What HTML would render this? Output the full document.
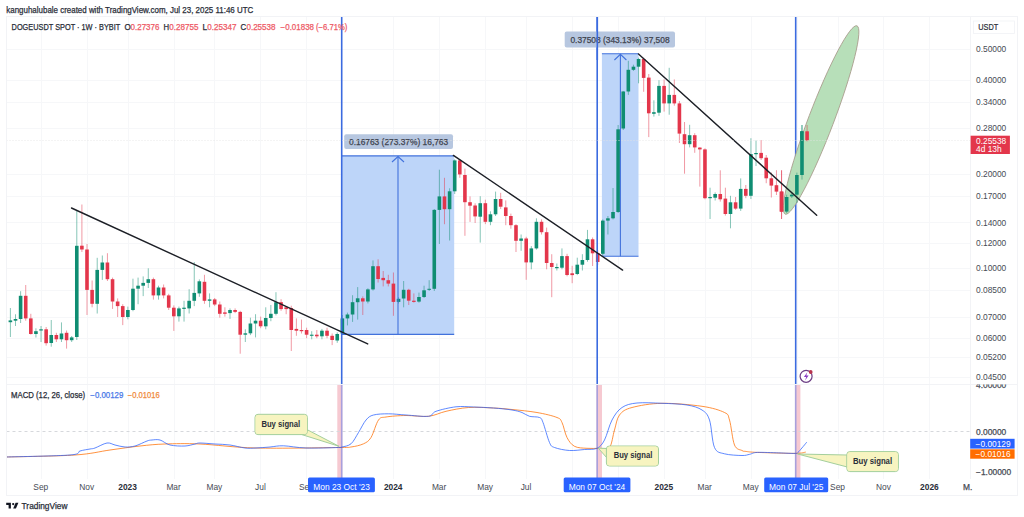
<!DOCTYPE html>
<html><head><meta charset="utf-8"><style>
html,body{margin:0;padding:0;background:#fff;width:1024px;height:517px;overflow:hidden}
svg{display:block}
</style></head><body>
<svg width="1024" height="517" viewBox="0 0 1024 517">
<rect width="1024" height="517" fill="#fff"/>
<g stroke="#f6f7f9" stroke-width="1" shape-rendering="crispEdges">
<line x1="6.5" y1="49.5" x2="970.5" y2="49.5"/>
<line x1="6.5" y1="80.5" x2="970.5" y2="80.5"/>
<line x1="6.5" y1="102.5" x2="970.5" y2="102.5"/>
<line x1="6.5" y1="128.5" x2="970.5" y2="128.5"/>
<line x1="6.5" y1="174.5" x2="970.5" y2="174.5"/>
<line x1="6.5" y1="196.5" x2="970.5" y2="196.5"/>
<line x1="6.5" y1="222.5" x2="970.5" y2="222.5"/>
<line x1="6.5" y1="243.5" x2="970.5" y2="243.5"/>
<line x1="6.5" y1="268.5" x2="970.5" y2="268.5"/>
<line x1="6.5" y1="290.5" x2="970.5" y2="290.5"/>
<line x1="6.5" y1="317.5" x2="970.5" y2="317.5"/>
<line x1="6.5" y1="338.5" x2="970.5" y2="338.5"/>
<line x1="6.5" y1="357.5" x2="970.5" y2="357.5"/>
<line x1="6.5" y1="377.5" x2="970.5" y2="377.5"/>
<line x1="41.5" y1="16.5" x2="41.5" y2="478.5"/>
<line x1="87.5" y1="16.5" x2="87.5" y2="478.5"/>
<line x1="128.5" y1="16.5" x2="128.5" y2="478.5"/>
<line x1="174.5" y1="16.5" x2="174.5" y2="478.5"/>
<line x1="214.5" y1="16.5" x2="214.5" y2="478.5"/>
<line x1="260.5" y1="16.5" x2="260.5" y2="478.5"/>
<line x1="306.5" y1="16.5" x2="306.5" y2="478.5"/>
<line x1="393.5" y1="16.5" x2="393.5" y2="478.5"/>
<line x1="439.5" y1="16.5" x2="439.5" y2="478.5"/>
<line x1="485.5" y1="16.5" x2="485.5" y2="478.5"/>
<line x1="526.5" y1="16.5" x2="526.5" y2="478.5"/>
<line x1="572.5" y1="16.5" x2="572.5" y2="478.5"/>
<line x1="618.5" y1="16.5" x2="618.5" y2="478.5"/>
<line x1="664.5" y1="16.5" x2="664.5" y2="478.5"/>
<line x1="705.5" y1="16.5" x2="705.5" y2="478.5"/>
<line x1="751.5" y1="16.5" x2="751.5" y2="478.5"/>
<line x1="797.5" y1="16.5" x2="797.5" y2="478.5"/>
<line x1="838.5" y1="16.5" x2="838.5" y2="478.5"/>
<line x1="883.5" y1="16.5" x2="883.5" y2="478.5"/>
<line x1="929.5" y1="16.5" x2="929.5" y2="478.5"/>
</g>
<rect x="337.3" y="384.5" width="5.2" height="94.0" fill="#f6c9d1" />
<rect x="596.3" y="384.5" width="5.7" height="94.0" fill="#f6c9d1" />
<rect x="794.9" y="384.5" width="5.5" height="94.0" fill="#f6c9d1" />
<line x1="6.5" y1="431.5" x2="970.5" y2="431.5" stroke="#d6d8dc" stroke-width="1" stroke-dasharray="3,3"/>
<rect x="341.6" y="155.9" width="112.6" height="178.5" fill="#bdd5f9" />
<rect x="601.9" y="53.7" width="36.6" height="202.6" fill="#bdd5f9" />
<g>
<rect x="6.5" y="322.5" width="0.5" height="8.7" fill="#0f8d72" fill-opacity="0.6"/>
<rect x="9.89" y="308.0" width="1" height="29.0" fill="#0f8d72" fill-opacity="0.5"/>
<rect x="8.59" y="320.4" width="3.6" height="1.8" fill="#0f8d72"/>
<rect x="15.00" y="314.3" width="1" height="11.7" fill="#0f8d72" fill-opacity="0.5"/>
<rect x="13.70" y="319.0" width="3.6" height="1.7" fill="#0f8d72"/>
<rect x="20.11" y="291.2" width="1" height="31.8" fill="#0f8d72" fill-opacity="0.5"/>
<rect x="18.81" y="295.8" width="3.6" height="23.2" fill="#0f8d72"/>
<rect x="25.22" y="285.0" width="1" height="35.7" fill="#e3364b" fill-opacity="0.5"/>
<rect x="23.92" y="295.8" width="3.6" height="22.6" fill="#e3364b"/>
<rect x="30.32" y="313.8" width="1" height="20.8" fill="#e3364b" fill-opacity="0.5"/>
<rect x="29.02" y="318.4" width="3.6" height="15.6" fill="#e3364b"/>
<rect x="35.43" y="328.3" width="1" height="9.2" fill="#0f8d72" fill-opacity="0.5"/>
<rect x="34.13" y="331.2" width="3.6" height="2.8" fill="#0f8d72"/>
<rect x="40.54" y="326.0" width="1" height="16.0" fill="#0f8d72" fill-opacity="0.5"/>
<rect x="39.24" y="329.3" width="3.6" height="1.2" fill="#0f8d72"/>
<rect x="45.64" y="327.0" width="1" height="18.6" fill="#e3364b" fill-opacity="0.5"/>
<rect x="44.34" y="329.3" width="3.6" height="13.9" fill="#e3364b"/>
<rect x="50.75" y="320.0" width="1" height="26.7" fill="#0f8d72" fill-opacity="0.5"/>
<rect x="49.45" y="335.0" width="3.6" height="8.0" fill="#0f8d72"/>
<rect x="55.86" y="332.8" width="1" height="9.2" fill="#e3364b" fill-opacity="0.5"/>
<rect x="54.56" y="335.0" width="3.6" height="4.3" fill="#e3364b"/>
<rect x="60.97" y="322.4" width="1" height="19.6" fill="#0f8d72" fill-opacity="0.5"/>
<rect x="59.67" y="333.5" width="3.6" height="5.8" fill="#0f8d72"/>
<rect x="66.07" y="330.5" width="1" height="18.1" fill="#e3364b" fill-opacity="0.5"/>
<rect x="64.77" y="332.8" width="3.6" height="7.4" fill="#e3364b"/>
<rect x="71.18" y="336.0" width="1" height="6.0" fill="#0f8d72" fill-opacity="0.5"/>
<rect x="69.88" y="337.4" width="3.6" height="2.8" fill="#0f8d72"/>
<rect x="76.29" y="211.0" width="1" height="129.0" fill="#0f8d72" fill-opacity="0.5"/>
<rect x="74.99" y="245.8" width="3.6" height="91.2" fill="#0f8d72"/>
<rect x="81.39" y="204.5" width="1" height="47.5" fill="#e3364b" fill-opacity="0.5"/>
<rect x="80.09" y="245.7" width="3.6" height="3.8" fill="#e3364b"/>
<rect x="86.50" y="244.0" width="1" height="71.0" fill="#e3364b" fill-opacity="0.5"/>
<rect x="85.20" y="249.5" width="3.6" height="40.4" fill="#e3364b"/>
<rect x="91.61" y="280.5" width="1" height="26.8" fill="#e3364b" fill-opacity="0.5"/>
<rect x="90.31" y="289.9" width="3.6" height="13.9" fill="#e3364b"/>
<rect x="96.71" y="257.8" width="1" height="55.7" fill="#0f8d72" fill-opacity="0.5"/>
<rect x="95.41" y="269.9" width="3.6" height="33.9" fill="#0f8d72"/>
<rect x="101.82" y="255.5" width="1" height="24.4" fill="#0f8d72" fill-opacity="0.5"/>
<rect x="100.52" y="262.5" width="3.6" height="7.4" fill="#0f8d72"/>
<rect x="106.93" y="253.2" width="1" height="27.8" fill="#e3364b" fill-opacity="0.5"/>
<rect x="105.63" y="262.5" width="3.6" height="16.7" fill="#e3364b"/>
<rect x="112.04" y="277.6" width="1" height="31.3" fill="#e3364b" fill-opacity="0.5"/>
<rect x="110.74" y="279.2" width="3.6" height="22.3" fill="#e3364b"/>
<rect x="117.14" y="298.4" width="1" height="18.6" fill="#e3364b" fill-opacity="0.5"/>
<rect x="115.84" y="301.5" width="3.6" height="4.6" fill="#e3364b"/>
<rect x="122.25" y="304.2" width="1" height="20.9" fill="#e3364b" fill-opacity="0.5"/>
<rect x="120.95" y="306.1" width="3.6" height="10.9" fill="#e3364b"/>
<rect x="127.36" y="306.6" width="1" height="12.7" fill="#0f8d72" fill-opacity="0.5"/>
<rect x="126.06" y="310.0" width="3.6" height="7.0" fill="#0f8d72"/>
<rect x="132.46" y="278.7" width="1" height="32.5" fill="#0f8d72" fill-opacity="0.5"/>
<rect x="131.16" y="288.7" width="3.6" height="21.3" fill="#0f8d72"/>
<rect x="137.57" y="277.6" width="1" height="26.6" fill="#0f8d72" fill-opacity="0.5"/>
<rect x="136.27" y="285.7" width="3.6" height="3.0" fill="#0f8d72"/>
<rect x="142.68" y="276.4" width="1" height="19.7" fill="#0f8d72" fill-opacity="0.5"/>
<rect x="141.38" y="282.9" width="3.6" height="2.8" fill="#0f8d72"/>
<rect x="147.78" y="268.3" width="1" height="19.7" fill="#0f8d72" fill-opacity="0.5"/>
<rect x="146.48" y="279.2" width="3.6" height="3.7" fill="#0f8d72"/>
<rect x="152.89" y="277.6" width="1" height="22.0" fill="#e3364b" fill-opacity="0.5"/>
<rect x="151.59" y="279.2" width="3.6" height="16.2" fill="#e3364b"/>
<rect x="158.00" y="285.7" width="1" height="13.9" fill="#0f8d72" fill-opacity="0.5"/>
<rect x="156.70" y="287.5" width="3.6" height="7.9" fill="#0f8d72"/>
<rect x="163.11" y="284.5" width="1" height="13.9" fill="#e3364b" fill-opacity="0.5"/>
<rect x="161.81" y="287.5" width="3.6" height="7.9" fill="#e3364b"/>
<rect x="168.21" y="293.8" width="1" height="16.2" fill="#e3364b" fill-opacity="0.5"/>
<rect x="166.91" y="295.4" width="3.6" height="12.3" fill="#e3364b"/>
<rect x="173.32" y="305.4" width="1" height="25.5" fill="#e3364b" fill-opacity="0.5"/>
<rect x="172.02" y="307.7" width="3.6" height="8.6" fill="#e3364b"/>
<rect x="178.43" y="306.6" width="1" height="15.0" fill="#0f8d72" fill-opacity="0.5"/>
<rect x="177.13" y="308.4" width="3.6" height="7.9" fill="#0f8d72"/>
<rect x="183.53" y="300.8" width="1" height="20.8" fill="#0f8d72" fill-opacity="0.5"/>
<rect x="182.23" y="307.7" width="3.6" height="1.2" fill="#0f8d72"/>
<rect x="188.64" y="289.2" width="1" height="24.3" fill="#0f8d72" fill-opacity="0.5"/>
<rect x="187.34" y="300.8" width="3.6" height="7.6" fill="#0f8d72"/>
<rect x="193.75" y="262.0" width="1" height="44.1" fill="#0f8d72" fill-opacity="0.5"/>
<rect x="192.45" y="292.9" width="3.6" height="7.9" fill="#0f8d72"/>
<rect x="198.85" y="279.4" width="1" height="17.4" fill="#0f8d72" fill-opacity="0.5"/>
<rect x="197.55" y="281.3" width="3.6" height="12.1" fill="#0f8d72"/>
<rect x="203.96" y="274.8" width="1" height="29.0" fill="#e3364b" fill-opacity="0.5"/>
<rect x="202.66" y="281.8" width="3.6" height="19.0" fill="#e3364b"/>
<rect x="209.07" y="293.4" width="1" height="13.9" fill="#0f8d72" fill-opacity="0.5"/>
<rect x="207.77" y="299.4" width="3.6" height="1.4" fill="#0f8d72"/>
<rect x="214.18" y="298.0" width="1" height="8.1" fill="#e3364b" fill-opacity="0.5"/>
<rect x="212.88" y="299.4" width="3.6" height="5.1" fill="#e3364b"/>
<rect x="219.28" y="301.5" width="1" height="16.2" fill="#e3364b" fill-opacity="0.5"/>
<rect x="217.98" y="304.5" width="3.6" height="9.3" fill="#e3364b"/>
<rect x="224.39" y="307.3" width="1" height="9.3" fill="#e3364b" fill-opacity="0.5"/>
<rect x="223.09" y="312.4" width="3.6" height="1.4" fill="#e3364b"/>
<rect x="229.50" y="308.4" width="1" height="10.5" fill="#0f8d72" fill-opacity="0.5"/>
<rect x="228.20" y="310.0" width="3.6" height="3.1" fill="#0f8d72"/>
<rect x="234.60" y="308.4" width="1" height="4.7" fill="#e3364b" fill-opacity="0.5"/>
<rect x="233.30" y="310.0" width="3.6" height="1.9" fill="#e3364b"/>
<rect x="239.71" y="310.8" width="1" height="42.9" fill="#e3364b" fill-opacity="0.5"/>
<rect x="238.41" y="311.9" width="3.6" height="22.8" fill="#e3364b"/>
<rect x="244.82" y="329.3" width="1" height="12.7" fill="#0f8d72" fill-opacity="0.5"/>
<rect x="243.52" y="333.3" width="3.6" height="1.4" fill="#0f8d72"/>
<rect x="249.92" y="317.7" width="1" height="17.4" fill="#0f8d72" fill-opacity="0.5"/>
<rect x="248.62" y="323.5" width="3.6" height="9.8" fill="#0f8d72"/>
<rect x="255.03" y="314.2" width="1" height="23.2" fill="#0f8d72" fill-opacity="0.5"/>
<rect x="253.73" y="320.7" width="3.6" height="2.8" fill="#0f8d72"/>
<rect x="260.14" y="316.6" width="1" height="11.6" fill="#e3364b" fill-opacity="0.5"/>
<rect x="258.84" y="320.7" width="3.6" height="5.6" fill="#e3364b"/>
<rect x="265.25" y="307.3" width="1" height="22.0" fill="#0f8d72" fill-opacity="0.5"/>
<rect x="263.94" y="318.0" width="3.6" height="8.3" fill="#0f8d72"/>
<rect x="270.35" y="305.0" width="1" height="16.2" fill="#0f8d72" fill-opacity="0.5"/>
<rect x="269.05" y="313.8" width="3.6" height="4.2" fill="#0f8d72"/>
<rect x="275.46" y="292.2" width="1" height="23.2" fill="#0f8d72" fill-opacity="0.5"/>
<rect x="274.16" y="302.2" width="3.6" height="11.6" fill="#0f8d72"/>
<rect x="280.57" y="299.2" width="1" height="11.6" fill="#e3364b" fill-opacity="0.5"/>
<rect x="279.27" y="302.2" width="3.6" height="6.9" fill="#e3364b"/>
<rect x="285.67" y="306.1" width="1" height="8.1" fill="#e3364b" fill-opacity="0.5"/>
<rect x="284.37" y="307.3" width="3.6" height="1.8" fill="#e3364b"/>
<rect x="290.78" y="305.7" width="1" height="45.3" fill="#e3364b" fill-opacity="0.5"/>
<rect x="289.48" y="308.0" width="3.6" height="22.0" fill="#e3364b"/>
<rect x="295.89" y="318.4" width="1" height="17.4" fill="#e3364b" fill-opacity="0.5"/>
<rect x="294.59" y="328.9" width="3.6" height="1.8" fill="#e3364b"/>
<rect x="300.99" y="319.6" width="1" height="13.9" fill="#e3364b" fill-opacity="0.5"/>
<rect x="299.69" y="330.0" width="3.6" height="1.2" fill="#e3364b"/>
<rect x="306.10" y="327.7" width="1" height="10.5" fill="#e3364b" fill-opacity="0.5"/>
<rect x="304.80" y="330.0" width="3.6" height="4.7" fill="#e3364b"/>
<rect x="311.21" y="331.2" width="1" height="8.1" fill="#0f8d72" fill-opacity="0.5"/>
<rect x="309.91" y="334.7" width="3.6" height="1.1" fill="#0f8d72"/>
<rect x="316.31" y="330.0" width="1" height="8.2" fill="#e3364b" fill-opacity="0.5"/>
<rect x="315.01" y="334.7" width="3.6" height="1.6" fill="#e3364b"/>
<rect x="321.42" y="328.9" width="1" height="10.4" fill="#0f8d72" fill-opacity="0.5"/>
<rect x="320.12" y="330.7" width="3.6" height="5.6" fill="#0f8d72"/>
<rect x="326.53" y="327.7" width="1" height="10.5" fill="#e3364b" fill-opacity="0.5"/>
<rect x="325.23" y="330.7" width="3.6" height="5.1" fill="#e3364b"/>
<rect x="331.64" y="333.5" width="1" height="11.6" fill="#e3364b" fill-opacity="0.5"/>
<rect x="330.34" y="335.8" width="3.6" height="4.2" fill="#e3364b"/>
<rect x="336.74" y="332.4" width="1" height="10.4" fill="#0f8d72" fill-opacity="0.5"/>
<rect x="335.44" y="334.0" width="3.6" height="6.5" fill="#0f8d72"/>
<rect x="341.85" y="315.0" width="1" height="19.7" fill="#0f8d72" fill-opacity="0.5"/>
<rect x="340.55" y="318.4" width="3.6" height="15.1" fill="#0f8d72"/>
<rect x="346.96" y="312.6" width="1" height="12.8" fill="#0f8d72" fill-opacity="0.5"/>
<rect x="345.66" y="314.5" width="3.6" height="3.9" fill="#0f8d72"/>
<rect x="352.06" y="295.2" width="1" height="26.7" fill="#0f8d72" fill-opacity="0.5"/>
<rect x="350.76" y="302.2" width="3.6" height="12.3" fill="#0f8d72"/>
<rect x="357.17" y="287.1" width="1" height="32.5" fill="#0f8d72" fill-opacity="0.5"/>
<rect x="355.87" y="298.3" width="3.6" height="3.9" fill="#0f8d72"/>
<rect x="362.28" y="296.4" width="1" height="18.6" fill="#e3364b" fill-opacity="0.5"/>
<rect x="360.98" y="298.3" width="3.6" height="3.2" fill="#e3364b"/>
<rect x="367.39" y="288.3" width="1" height="15.1" fill="#0f8d72" fill-opacity="0.5"/>
<rect x="366.09" y="289.4" width="3.6" height="12.1" fill="#0f8d72"/>
<rect x="372.49" y="260.4" width="1" height="30.2" fill="#0f8d72" fill-opacity="0.5"/>
<rect x="371.19" y="266.2" width="3.6" height="23.2" fill="#0f8d72"/>
<rect x="377.60" y="259.3" width="1" height="23.2" fill="#e3364b" fill-opacity="0.5"/>
<rect x="376.30" y="266.2" width="3.6" height="12.8" fill="#e3364b"/>
<rect x="382.71" y="271.0" width="1" height="15.4" fill="#e3364b" fill-opacity="0.5"/>
<rect x="381.41" y="277.9" width="3.6" height="2.3" fill="#e3364b"/>
<rect x="387.81" y="274.8" width="1" height="11.6" fill="#e3364b" fill-opacity="0.5"/>
<rect x="386.51" y="280.2" width="3.6" height="3.4" fill="#e3364b"/>
<rect x="392.92" y="272.5" width="1" height="43.3" fill="#e3364b" fill-opacity="0.5"/>
<rect x="391.62" y="283.6" width="3.6" height="18.3" fill="#e3364b"/>
<rect x="398.03" y="297.3" width="1" height="6.2" fill="#0f8d72" fill-opacity="0.5"/>
<rect x="396.73" y="298.8" width="3.6" height="3.1" fill="#0f8d72"/>
<rect x="403.13" y="281.0" width="1" height="26.3" fill="#0f8d72" fill-opacity="0.5"/>
<rect x="401.83" y="289.8" width="3.6" height="8.7" fill="#0f8d72"/>
<rect x="408.24" y="288.8" width="1" height="16.2" fill="#e3364b" fill-opacity="0.5"/>
<rect x="406.94" y="289.8" width="3.6" height="10.9" fill="#e3364b"/>
<rect x="413.35" y="293.4" width="1" height="9.3" fill="#e3364b" fill-opacity="0.5"/>
<rect x="412.05" y="300.7" width="3.6" height="1.2" fill="#e3364b"/>
<rect x="418.46" y="292.6" width="1" height="10.1" fill="#0f8d72" fill-opacity="0.5"/>
<rect x="417.16" y="297.0" width="3.6" height="4.6" fill="#0f8d72"/>
<rect x="423.56" y="285.7" width="1" height="12.3" fill="#0f8d72" fill-opacity="0.5"/>
<rect x="422.26" y="290.3" width="3.6" height="6.7" fill="#0f8d72"/>
<rect x="428.67" y="280.2" width="1" height="10.8" fill="#0f8d72" fill-opacity="0.5"/>
<rect x="427.37" y="288.8" width="3.6" height="1.0" fill="#0f8d72"/>
<rect x="433.78" y="209.0" width="1" height="82.0" fill="#0f8d72" fill-opacity="0.5"/>
<rect x="432.48" y="209.9" width="3.6" height="78.9" fill="#0f8d72"/>
<rect x="438.88" y="169.7" width="1" height="74.3" fill="#0f8d72" fill-opacity="0.5"/>
<rect x="437.58" y="196.4" width="3.6" height="13.5" fill="#0f8d72"/>
<rect x="443.99" y="177.8" width="1" height="46.4" fill="#e3364b" fill-opacity="0.5"/>
<rect x="442.69" y="196.4" width="3.6" height="12.8" fill="#e3364b"/>
<rect x="449.10" y="188.3" width="1" height="52.2" fill="#0f8d72" fill-opacity="0.5"/>
<rect x="447.80" y="191.3" width="3.6" height="17.9" fill="#0f8d72"/>
<rect x="454.20" y="159.3" width="1" height="34.7" fill="#0f8d72" fill-opacity="0.5"/>
<rect x="452.90" y="160.4" width="3.6" height="30.9" fill="#0f8d72"/>
<rect x="459.31" y="159.3" width="1" height="18.5" fill="#e3364b" fill-opacity="0.5"/>
<rect x="458.01" y="160.4" width="3.6" height="14.0" fill="#e3364b"/>
<rect x="464.42" y="168.6" width="1" height="67.2" fill="#e3364b" fill-opacity="0.5"/>
<rect x="463.12" y="175.0" width="3.6" height="27.2" fill="#e3364b"/>
<rect x="469.53" y="196.4" width="1" height="25.5" fill="#e3364b" fill-opacity="0.5"/>
<rect x="468.23" y="202.2" width="3.6" height="3.5" fill="#e3364b"/>
<rect x="474.63" y="203.3" width="1" height="19.7" fill="#e3364b" fill-opacity="0.5"/>
<rect x="473.33" y="205.5" width="3.6" height="10.9" fill="#e3364b"/>
<rect x="479.74" y="196.2" width="1" height="46.4" fill="#0f8d72" fill-opacity="0.5"/>
<rect x="478.44" y="203.2" width="3.6" height="13.5" fill="#0f8d72"/>
<rect x="484.85" y="199.7" width="1" height="24.4" fill="#e3364b" fill-opacity="0.5"/>
<rect x="483.55" y="203.2" width="3.6" height="18.6" fill="#e3364b"/>
<rect x="489.95" y="211.3" width="1" height="13.9" fill="#0f8d72" fill-opacity="0.5"/>
<rect x="488.65" y="214.3" width="3.6" height="7.5" fill="#0f8d72"/>
<rect x="495.06" y="191.6" width="1" height="24.4" fill="#0f8d72" fill-opacity="0.5"/>
<rect x="493.76" y="199.0" width="3.6" height="15.3" fill="#0f8d72"/>
<rect x="500.17" y="192.8" width="1" height="16.2" fill="#e3364b" fill-opacity="0.5"/>
<rect x="498.87" y="199.0" width="3.6" height="7.7" fill="#e3364b"/>
<rect x="505.27" y="200.4" width="1" height="24.8" fill="#e3364b" fill-opacity="0.5"/>
<rect x="503.97" y="207.4" width="3.6" height="8.6" fill="#e3364b"/>
<rect x="510.38" y="213.6" width="1" height="15.1" fill="#e3364b" fill-opacity="0.5"/>
<rect x="509.08" y="216.0" width="3.6" height="9.2" fill="#e3364b"/>
<rect x="515.49" y="224.1" width="1" height="27.9" fill="#e3364b" fill-opacity="0.5"/>
<rect x="514.19" y="225.2" width="3.6" height="15.6" fill="#e3364b"/>
<rect x="520.60" y="234.5" width="1" height="16.3" fill="#0f8d72" fill-opacity="0.5"/>
<rect x="519.30" y="238.5" width="3.6" height="2.3" fill="#0f8d72"/>
<rect x="525.70" y="236.8" width="1" height="43.0" fill="#e3364b" fill-opacity="0.5"/>
<rect x="524.40" y="238.5" width="3.6" height="23.9" fill="#e3364b"/>
<rect x="530.81" y="246.1" width="1" height="23.2" fill="#0f8d72" fill-opacity="0.5"/>
<rect x="529.51" y="248.4" width="3.6" height="14.0" fill="#0f8d72"/>
<rect x="535.92" y="218.3" width="1" height="31.3" fill="#0f8d72" fill-opacity="0.5"/>
<rect x="534.62" y="221.8" width="3.6" height="26.6" fill="#0f8d72"/>
<rect x="541.02" y="219.4" width="1" height="15.1" fill="#e3364b" fill-opacity="0.5"/>
<rect x="539.72" y="221.8" width="3.6" height="10.4" fill="#e3364b"/>
<rect x="546.13" y="227.6" width="1" height="41.7" fill="#e3364b" fill-opacity="0.5"/>
<rect x="544.83" y="232.2" width="3.6" height="30.8" fill="#e3364b"/>
<rect x="551.24" y="254.2" width="1" height="43.0" fill="#e3364b" fill-opacity="0.5"/>
<rect x="549.94" y="263.0" width="3.6" height="4.0" fill="#e3364b"/>
<rect x="556.34" y="263.5" width="1" height="7.0" fill="#0f8d72" fill-opacity="0.5"/>
<rect x="555.04" y="267.0" width="3.6" height="1.2" fill="#0f8d72"/>
<rect x="561.45" y="248.4" width="1" height="20.9" fill="#0f8d72" fill-opacity="0.5"/>
<rect x="560.15" y="256.1" width="3.6" height="11.6" fill="#0f8d72"/>
<rect x="566.56" y="253.8" width="1" height="22.5" fill="#e3364b" fill-opacity="0.5"/>
<rect x="565.26" y="256.1" width="3.6" height="18.9" fill="#e3364b"/>
<rect x="571.66" y="265.8" width="1" height="17.4" fill="#e3364b" fill-opacity="0.5"/>
<rect x="570.37" y="273.3" width="3.6" height="1.8" fill="#e3364b"/>
<rect x="576.77" y="257.7" width="1" height="17.4" fill="#0f8d72" fill-opacity="0.5"/>
<rect x="575.47" y="264.7" width="3.6" height="9.3" fill="#0f8d72"/>
<rect x="581.88" y="254.2" width="1" height="16.3" fill="#0f8d72" fill-opacity="0.5"/>
<rect x="580.58" y="260.0" width="3.6" height="4.7" fill="#0f8d72"/>
<rect x="586.99" y="229.9" width="1" height="31.8" fill="#0f8d72" fill-opacity="0.5"/>
<rect x="585.69" y="239.3" width="3.6" height="20.7" fill="#0f8d72"/>
<rect x="592.09" y="237.5" width="1" height="28.5" fill="#e3364b" fill-opacity="0.5"/>
<rect x="590.79" y="239.3" width="3.6" height="14.0" fill="#e3364b"/>
<rect x="597.20" y="250.0" width="1" height="15.0" fill="#e3364b" fill-opacity="0.5"/>
<rect x="595.90" y="253.0" width="3.6" height="9.0" fill="#e3364b"/>
<rect x="602.31" y="219.4" width="1" height="36.0" fill="#0f8d72" fill-opacity="0.5"/>
<rect x="601.01" y="220.6" width="3.6" height="33.2" fill="#0f8d72"/>
<rect x="607.41" y="216.0" width="1" height="18.5" fill="#0f8d72" fill-opacity="0.5"/>
<rect x="606.11" y="218.3" width="3.6" height="2.3" fill="#0f8d72"/>
<rect x="612.52" y="188.0" width="1" height="31.4" fill="#0f8d72" fill-opacity="0.5"/>
<rect x="611.22" y="212.0" width="3.6" height="6.3" fill="#0f8d72"/>
<rect x="617.63" y="125.0" width="1" height="88.0" fill="#0f8d72" fill-opacity="0.5"/>
<rect x="616.33" y="129.3" width="3.6" height="82.7" fill="#0f8d72"/>
<rect x="622.74" y="91.0" width="1" height="39.0" fill="#0f8d72" fill-opacity="0.5"/>
<rect x="621.44" y="91.5" width="3.6" height="37.0" fill="#0f8d72"/>
<rect x="627.84" y="60.8" width="1" height="34.1" fill="#0f8d72" fill-opacity="0.5"/>
<rect x="626.54" y="69.8" width="3.6" height="21.7" fill="#0f8d72"/>
<rect x="632.95" y="64.7" width="1" height="6.2" fill="#0f8d72" fill-opacity="0.5"/>
<rect x="631.65" y="66.7" width="3.6" height="3.1" fill="#0f8d72"/>
<rect x="638.06" y="57.7" width="1" height="25.6" fill="#0f8d72" fill-opacity="0.5"/>
<rect x="636.76" y="59.0" width="3.6" height="7.7" fill="#0f8d72"/>
<rect x="643.16" y="57.7" width="1" height="34.1" fill="#e3364b" fill-opacity="0.5"/>
<rect x="641.86" y="59.0" width="3.6" height="18.9" fill="#e3364b"/>
<rect x="648.27" y="74.0" width="1" height="63.1" fill="#e3364b" fill-opacity="0.5"/>
<rect x="646.97" y="77.6" width="3.6" height="35.7" fill="#e3364b"/>
<rect x="653.38" y="100.3" width="1" height="16.3" fill="#0f8d72" fill-opacity="0.5"/>
<rect x="652.08" y="112.2" width="3.6" height="1.6" fill="#0f8d72"/>
<rect x="658.48" y="80.2" width="1" height="35.6" fill="#0f8d72" fill-opacity="0.5"/>
<rect x="657.18" y="85.9" width="3.6" height="26.8" fill="#0f8d72"/>
<rect x="663.59" y="79.4" width="1" height="32.2" fill="#e3364b" fill-opacity="0.5"/>
<rect x="662.29" y="85.9" width="3.6" height="17.5" fill="#e3364b"/>
<rect x="668.70" y="67.8" width="1" height="46.9" fill="#0f8d72" fill-opacity="0.5"/>
<rect x="667.40" y="94.9" width="3.6" height="8.5" fill="#0f8d72"/>
<rect x="673.81" y="79.4" width="1" height="26.3" fill="#e3364b" fill-opacity="0.5"/>
<rect x="672.51" y="94.9" width="3.6" height="8.5" fill="#e3364b"/>
<rect x="678.91" y="101.0" width="1" height="42.0" fill="#e3364b" fill-opacity="0.5"/>
<rect x="677.61" y="103.4" width="3.6" height="30.2" fill="#e3364b"/>
<rect x="684.02" y="122.0" width="1" height="51.7" fill="#e3364b" fill-opacity="0.5"/>
<rect x="682.72" y="134.2" width="3.6" height="10.0" fill="#e3364b"/>
<rect x="689.13" y="124.8" width="1" height="22.6" fill="#0f8d72" fill-opacity="0.5"/>
<rect x="687.83" y="135.2" width="3.6" height="9.0" fill="#0f8d72"/>
<rect x="694.23" y="133.2" width="1" height="19.6" fill="#e3364b" fill-opacity="0.5"/>
<rect x="692.93" y="135.2" width="3.6" height="12.2" fill="#e3364b"/>
<rect x="699.34" y="147.1" width="1" height="39.5" fill="#e3364b" fill-opacity="0.5"/>
<rect x="698.04" y="147.6" width="3.6" height="1.8" fill="#e3364b"/>
<rect x="704.45" y="148.3" width="1" height="51.0" fill="#e3364b" fill-opacity="0.5"/>
<rect x="703.15" y="149.4" width="3.6" height="48.8" fill="#e3364b"/>
<rect x="709.55" y="187.7" width="1" height="31.3" fill="#0f8d72" fill-opacity="0.5"/>
<rect x="708.25" y="197.0" width="3.6" height="1.2" fill="#0f8d72"/>
<rect x="714.66" y="192.4" width="1" height="8.1" fill="#0f8d72" fill-opacity="0.5"/>
<rect x="713.36" y="194.0" width="3.6" height="3.7" fill="#0f8d72"/>
<rect x="719.77" y="170.3" width="1" height="31.3" fill="#e3364b" fill-opacity="0.5"/>
<rect x="718.47" y="194.0" width="3.6" height="5.3" fill="#e3364b"/>
<rect x="724.88" y="187.7" width="1" height="27.9" fill="#e3364b" fill-opacity="0.5"/>
<rect x="723.58" y="198.6" width="3.6" height="15.4" fill="#e3364b"/>
<rect x="729.98" y="195.8" width="1" height="32.5" fill="#0f8d72" fill-opacity="0.5"/>
<rect x="728.68" y="202.3" width="3.6" height="11.7" fill="#0f8d72"/>
<rect x="735.09" y="197.0" width="1" height="12.8" fill="#e3364b" fill-opacity="0.5"/>
<rect x="733.79" y="202.3" width="3.6" height="6.3" fill="#e3364b"/>
<rect x="740.20" y="178.4" width="1" height="32.5" fill="#0f8d72" fill-opacity="0.5"/>
<rect x="738.90" y="188.9" width="3.6" height="19.7" fill="#0f8d72"/>
<rect x="745.30" y="185.0" width="1" height="13.2" fill="#e3364b" fill-opacity="0.5"/>
<rect x="744.00" y="188.9" width="3.6" height="6.9" fill="#e3364b"/>
<rect x="750.41" y="138.2" width="1" height="60.8" fill="#0f8d72" fill-opacity="0.5"/>
<rect x="749.11" y="154.1" width="3.6" height="41.7" fill="#0f8d72"/>
<rect x="755.52" y="140.5" width="1" height="25.5" fill="#0f8d72" fill-opacity="0.5"/>
<rect x="754.22" y="153.0" width="3.6" height="1.2" fill="#0f8d72"/>
<rect x="760.62" y="140.0" width="1" height="20.0" fill="#e3364b" fill-opacity="0.5"/>
<rect x="759.32" y="152.9" width="3.6" height="5.3" fill="#e3364b"/>
<rect x="765.73" y="155.0" width="1" height="28.2" fill="#e3364b" fill-opacity="0.5"/>
<rect x="764.43" y="157.7" width="3.6" height="20.6" fill="#e3364b"/>
<rect x="770.84" y="172.5" width="1" height="25.0" fill="#e3364b" fill-opacity="0.5"/>
<rect x="769.54" y="178.3" width="3.6" height="7.3" fill="#e3364b"/>
<rect x="775.95" y="170.2" width="1" height="24.8" fill="#e3364b" fill-opacity="0.5"/>
<rect x="774.65" y="185.2" width="3.6" height="6.4" fill="#e3364b"/>
<rect x="781.05" y="170.3" width="1" height="48.7" fill="#e3364b" fill-opacity="0.5"/>
<rect x="779.75" y="191.6" width="3.6" height="20.0" fill="#e3364b"/>
<rect x="786.16" y="194.7" width="1" height="18.5" fill="#0f8d72" fill-opacity="0.5"/>
<rect x="784.86" y="197.0" width="3.6" height="14.6" fill="#0f8d72"/>
<rect x="791.27" y="192.0" width="1" height="6.0" fill="#0f8d72" fill-opacity="0.5"/>
<rect x="789.97" y="194.7" width="3.6" height="1.7" fill="#0f8d72"/>
<rect x="796.37" y="172.6" width="1" height="30.2" fill="#0f8d72" fill-opacity="0.5"/>
<rect x="795.07" y="175.0" width="3.6" height="19.7" fill="#0f8d72"/>
<rect x="801.48" y="125.0" width="1" height="54.6" fill="#0f8d72" fill-opacity="0.5"/>
<rect x="800.18" y="131.3" width="3.6" height="43.7" fill="#0f8d72"/>
<rect x="806.59" y="125.0" width="1" height="16.3" fill="#e3364b" fill-opacity="0.5"/>
<rect x="805.29" y="131.3" width="3.6" height="9.1" fill="#e3364b"/>
</g>
<g stroke="#4272dc" stroke-width="1.1" fill="none">
<line x1="341.6" y1="155.9" x2="454.2" y2="155.9"/>
<line x1="341.6" y1="334.4" x2="454.2" y2="334.4"/>
<line x1="398" y1="334.4" x2="398" y2="156.5"/>
<polyline points="392,162 398,156.5 404,162"/>
<line x1="601.9" y1="53.7" x2="638.5" y2="53.7"/>
<line x1="601.9" y1="256.3" x2="638.5" y2="256.3"/>
<line x1="620.4" y1="256.3" x2="620.4" y2="54.3"/>
<polyline points="614.4,60 620.4,54.3 626.4,60"/>
</g>
<line x1="341.7" y1="16.5" x2="341.7" y2="384.5" stroke="#3b6be0" stroke-width="1.6"/>
<line x1="341.7" y1="385.0" x2="341.7" y2="478.5" stroke="#5a78ea" stroke-opacity="0.5" stroke-width="1.6"/>
<line x1="597.2" y1="16.5" x2="597.2" y2="384.5" stroke="#3b6be0" stroke-width="1.6"/>
<line x1="597.2" y1="385.0" x2="597.2" y2="478.5" stroke="#5a78ea" stroke-opacity="0.5" stroke-width="1.6"/>
<line x1="795.7" y1="16.5" x2="795.7" y2="384.5" stroke="#3b6be0" stroke-width="1.6"/>
<line x1="795.7" y1="385.0" x2="795.7" y2="478.5" stroke="#5a78ea" stroke-opacity="0.5" stroke-width="1.6"/>
<ellipse cx="821.1" cy="120.0" rx="100.8" ry="12.6" transform="rotate(-69.14 821.1 120.0)" fill="#b7dfb9" stroke="#a89c8c" stroke-width="0.8"/>
<g>
<rect x="781.05" y="170.3" width="1" height="48.7" fill="#e3364b" fill-opacity="0.5"/>
<rect x="779.75" y="191.6" width="3.6" height="20.0" fill="#e3364b"/>
<rect x="786.16" y="194.7" width="1" height="18.5" fill="#0f8d72" fill-opacity="0.5"/>
<rect x="784.86" y="197.0" width="3.6" height="14.6" fill="#0f8d72"/>
<rect x="791.27" y="192.0" width="1" height="6.0" fill="#0f8d72" fill-opacity="0.5"/>
<rect x="789.97" y="194.7" width="3.6" height="1.7" fill="#0f8d72"/>
<rect x="796.37" y="172.6" width="1" height="30.2" fill="#0f8d72" fill-opacity="0.5"/>
<rect x="795.07" y="175.0" width="3.6" height="19.7" fill="#0f8d72"/>
<rect x="801.48" y="125.0" width="1" height="54.6" fill="#0f8d72" fill-opacity="0.5"/>
<rect x="800.18" y="131.3" width="3.6" height="43.7" fill="#0f8d72"/>
<rect x="806.59" y="125.0" width="1" height="16.3" fill="#e3364b" fill-opacity="0.5"/>
<rect x="805.29" y="131.3" width="3.6" height="9.1" fill="#e3364b"/>
</g>
<g stroke="#1c1f26" stroke-width="1.4" stroke-linecap="round">
<line x1="71.5" y1="208" x2="367.7" y2="343.9"/>
<line x1="453.4" y1="155.4" x2="622.6" y2="270.1"/>
<line x1="638.5" y1="53.9" x2="816.7" y2="215.3"/>
</g>
<rect x="344.2" y="134.2" width="108.8" height="14.9" rx="2" fill="#b7c7e0"/>
<text x="398.6" y="144.6" font-size="8.4" fill="#40444f" text-anchor="middle" font-family='"Liberation Sans", sans-serif' stroke="#40444f" stroke-width="0.25">0.16763 (273.37%) 16,763</text>
<rect x="564.7" y="31.6" width="110.3" height="16" rx="2" fill="#b7c7e0"/>
<text x="620" y="42.7" font-size="8.4" fill="#40444f" text-anchor="middle" font-family='"Liberation Sans", sans-serif' stroke="#40444f" stroke-width="0.25">0.37508 (343.13%) 37,508</text>
<line x1="597.3" y1="16.5" x2="597.3" y2="60" stroke="#3b6be0" stroke-width="1.6"/>
<line x1="6.5" y1="140.5" x2="970.5" y2="140.5" stroke="#e2e2e2" stroke-width="0.8" stroke-dasharray="1,2"/>
<path d="M6.0,457.0 C17.5,456.7 57.7,456.2 75.0,455.0 C92.3,453.8 99.2,451.5 110.0,450.0 C120.8,448.5 130.8,447.0 140.0,446.0 C149.2,445.0 155.0,444.3 165.0,444.0 C175.0,443.7 184.8,443.3 200.0,444.0 C215.2,444.7 232.9,447.4 256.0,448.0 C279.1,448.6 322.7,447.7 338.5,447.5 C354.3,447.3 346.8,447.6 351.0,447.0 C355.2,446.4 360.2,445.4 363.5,443.8 C366.8,442.2 368.5,441.5 371.0,437.5 C373.5,433.5 376.0,423.4 378.5,420.0 C381.0,416.6 381.4,417.8 386.0,417.0 C390.6,416.2 398.9,415.6 406.0,415.5 C413.1,415.4 421.8,417.0 428.5,416.3 C435.2,415.6 439.3,412.8 446.0,411.3 C452.7,409.8 460.6,408.1 468.5,407.5 C476.4,406.9 486.2,407.7 493.5,408.0 C500.8,408.3 504.8,408.8 512.0,409.5 C519.2,410.2 529.5,411.2 537.0,412.5 C544.5,413.8 552.8,415.8 557.0,417.5 C561.2,419.2 560.3,419.2 562.0,422.5 C563.7,425.8 564.9,433.5 567.0,437.5 C569.1,441.5 571.2,444.5 574.5,446.3 C577.8,448.1 582.8,448.0 587.0,448.3 C591.2,448.6 595.8,448.4 599.5,448.3 C603.2,448.2 607.0,450.6 609.5,447.5 C612.0,444.4 612.8,435.4 614.5,430.0 C616.2,424.6 616.6,418.8 619.5,415.0 C622.4,411.2 624.9,409.4 632.0,407.5 C639.1,405.6 650.3,403.5 662.0,403.3 C673.7,403.1 691.6,404.8 702.0,406.3 C712.4,407.8 719.9,410.2 724.5,412.5 C729.1,414.8 727.8,414.6 729.5,420.0 C731.2,425.4 732.4,439.9 734.5,445.0 C736.6,450.1 740.1,449.4 742.0,450.5 C743.9,451.6 743.2,451.1 745.8,451.4 C748.4,451.7 749.2,452.1 757.4,452.4 C765.6,452.7 787.0,453.4 795.1,453.4 C803.2,453.3 804.0,452.3 805.8,452.1" fill="none" stroke="#ff6d00" stroke-width="1" stroke-opacity="0.75" stroke-linejoin="round"/>
<path d="M6.0,457.0 C16.7,456.7 57.7,456.0 70.0,455.0 C82.3,454.0 76.7,452.0 80.0,451.0 C83.3,450.0 87.5,449.5 90.0,449.0 C92.5,448.5 92.2,449.0 95.0,448.0 C97.8,447.0 103.7,443.5 107.0,443.0 C110.3,442.5 112.0,444.3 115.0,445.0 C118.0,445.7 121.7,446.8 125.0,447.0 C128.3,447.2 131.3,447.0 135.0,446.0 C138.7,445.0 144.2,442.0 147.0,441.0 C149.8,440.0 149.8,440.2 152.0,440.0 C154.2,439.8 157.0,439.2 160.0,440.0 C163.0,440.8 165.8,444.0 170.0,445.0 C174.2,446.0 180.8,446.2 185.0,446.0 C189.2,445.8 192.5,444.5 195.0,444.0 C197.5,443.5 196.7,443.0 200.0,443.0 C203.3,443.0 210.0,443.7 215.0,444.0 C220.0,444.3 225.0,444.3 230.0,445.0 C235.0,445.7 240.7,447.5 245.0,448.0 C249.3,448.5 251.8,448.2 256.0,448.0 C260.2,447.8 265.4,447.4 270.0,447.0 C274.6,446.6 277.5,445.6 283.5,445.8 C289.5,446.0 296.8,447.7 306.0,448.0 C315.2,448.3 332.5,447.7 338.5,447.5 C344.5,447.3 339.9,447.6 342.0,447.0 C344.1,446.4 348.2,446.2 351.0,443.8 C353.8,441.4 356.0,436.5 358.5,432.5 C361.0,428.5 363.5,422.9 366.0,420.0 C368.5,417.1 369.8,416.0 373.5,415.0 C377.2,414.0 383.1,413.8 388.5,413.8 C393.9,413.8 399.3,414.6 406.0,415.0 C412.7,415.4 423.5,416.9 428.5,416.3 C433.5,415.7 431.4,412.9 436.0,411.3 C440.6,409.7 449.8,407.5 456.0,406.8 C462.2,406.1 467.2,406.8 473.5,407.0 C479.8,407.2 487.1,407.5 493.5,408.0 C499.9,408.5 507.2,409.2 512.0,410.0 C516.8,410.8 519.1,411.4 522.0,412.5 C524.9,413.6 526.6,415.5 529.5,416.3 C532.4,417.1 537.2,416.5 539.5,417.5 C541.8,418.5 541.3,418.3 543.0,422.5 C544.7,426.7 547.6,438.3 549.5,442.5 C551.4,446.7 551.2,446.2 554.5,447.5 C557.8,448.8 564.5,450.2 569.5,450.5 C574.5,450.8 579.9,449.9 584.5,449.5 C589.1,449.1 593.7,449.9 597.0,448.3 C600.3,446.7 602.0,444.7 604.5,440.0 C607.0,435.3 609.1,425.4 612.0,420.0 C614.9,414.6 617.8,410.3 622.0,407.5 C626.2,404.7 630.3,403.7 637.0,403.0 C643.7,402.3 653.7,403.0 662.0,403.3 C670.3,403.6 680.3,403.9 687.0,405.0 C693.7,406.1 698.2,407.5 702.0,410.0 C705.8,412.5 707.4,413.8 709.5,420.0 C711.6,426.2 712.0,441.9 714.5,447.5 C717.0,453.1 719.9,452.5 724.5,453.8 C729.1,455.1 737.8,455.4 742.0,455.5 C746.2,455.6 747.1,454.8 749.7,454.3 C752.3,453.8 752.6,452.6 757.4,452.4 C762.2,452.2 772.4,452.7 778.7,452.9 C785.0,453.1 791.9,453.5 795.1,453.4 C798.3,453.3 796.9,453.3 798.0,452.4 C799.1,451.5 800.4,449.7 801.9,448.0 C803.4,446.3 805.9,443.2 806.7,442.2" fill="none" stroke="#2962ff" stroke-width="1" stroke-opacity="0.75" stroke-linejoin="round"/>
<path d="M300,434 L339,446.3 L307.8,430 Z" fill="#f7f4c0" stroke="#a3cf9c" stroke-width="1"/>
<rect x="255" y="414.3" width="52.4" height="20.3" rx="3" fill="#f7f4c0" stroke="#a3cf9c" stroke-width="1"/>
<rect x="255.6" y="414.90000000000003" width="51.2" height="19.1" rx="2.5" fill="#f7f4c0"/>
<text x="261.4" y="426.7" textLength="38.8" lengthAdjust="spacingAndGlyphs" font-size="8.5" font-weight="bold" fill="#2a2e39" font-family='"Liberation Sans", sans-serif'>Buy signal</text>
<path d="M607,448.5 L598.2,448.1 L607,458 Z" fill="#f7f4c0" stroke="#a3cf9c" stroke-width="1"/>
<rect x="606.4" y="446" width="52.1" height="20.0" rx="3" fill="#f7f4c0" stroke="#a3cf9c" stroke-width="1"/>
<rect x="607.0" y="446.6" width="50.9" height="18.8" rx="2.5" fill="#f7f4c0"/>
<text x="613.7" y="458.4" textLength="38.6" lengthAdjust="spacingAndGlyphs" font-size="8.5" font-weight="bold" fill="#2a2e39" font-family='"Liberation Sans", sans-serif'>Buy signal</text>
<path d="M847.3,455 L797.6,454 L847.3,467 Z" fill="#f7f4c0" stroke="#a3cf9c" stroke-width="1"/>
<rect x="846.8" y="451.6" width="51.6" height="20.0" rx="3" fill="#f7f4c0" stroke="#a3cf9c" stroke-width="1"/>
<rect x="847.4" y="452.20000000000005" width="50.4" height="18.8" rx="2.5" fill="#f7f4c0"/>
<text x="852.9" y="464.3" textLength="39.2" lengthAdjust="spacingAndGlyphs" font-size="8.5" font-weight="bold" fill="#2a2e39" font-family='"Liberation Sans", sans-serif'>Buy signal</text>
<circle cx="806.1" cy="376.3" r="6" fill="#fff" stroke="#6e3f86" stroke-width="1.2"/>
<path d="M807.3,372.3 L803.9,377 L806.2,377 L805.1,380.4 L808.6,375.6 L806.3,375.6 Z" fill="#8a3cc4"/>
<circle cx="810.7" cy="372" r="1.9" fill="#b8334f"/>
<g stroke="#f2f3f6" stroke-width="1" fill="none" shape-rendering="crispEdges">
<rect x="6.5" y="16.5" width="1011.0" height="479.0"/>
<line x1="970.5" y1="16.5" x2="970.5" y2="478.5"/>
<line x1="6.5" y1="384.5" x2="1017.5" y2="384.5"/>
</g>
<g font-family='"Liberation Sans", sans-serif' font-size="8.4" fill="#474b55">
<text x="976" y="52.2">0.50000</text>
<text x="976" y="82.6">0.40000</text>
<text x="976" y="104.7">0.34000</text>
<text x="976" y="131.1">0.28000</text>
<text x="976" y="176.9">0.20000</text>
<text x="976" y="199.0">0.17000</text>
<text x="976" y="225.5">0.14000</text>
<text x="976" y="246.4">0.12000</text>
<text x="976" y="271.2">0.10000</text>
<text x="976" y="293.4">0.08500</text>
<text x="976" y="319.8">0.07000</text>
<text x="976" y="340.8">0.06000</text>
<text x="976" y="360.2">0.05200</text>
<text x="976" y="379.9">0.04500</text>
</g>
<rect x="973.5" y="21" width="41" height="12.5" fill="#fff" stroke="#f1f2f5" stroke-width="0.8"/>
<text x="978.3" y="30.2" textLength="20" lengthAdjust="spacingAndGlyphs" font-family='"Liberation Sans", sans-serif' font-size="8.4" fill="#2a2e39" stroke="#2a2e39" stroke-width="0.2">USDT</text>
<rect x="970.6" y="135.7" width="39.3" height="18.3" fill="#e3364b"/>
<text x="976" y="143.9" font-family='"Liberation Sans", sans-serif' font-size="8.4" fill="#fff">0.25538</text>
<text x="976" y="151.6" font-family='"Liberation Sans", sans-serif' font-size="8.4" fill="#fff">4d 13h</text>
<clipPath id="macdclip"><rect x="970" y="384.5" width="50" height="100"/></clipPath>
<text x="976" y="388.2" clip-path="url(#macdclip)" font-family='"Liberation Sans", sans-serif' font-size="8.4" fill="#474b55" stroke="#474b55" stroke-width="0.25">4.00000</text>
<text x="976" y="434.6" font-family='"Liberation Sans", sans-serif' font-size="8.4" fill="#474b55" stroke="#474b55" stroke-width="0.25">0.00000</text>
<text x="976" y="475" font-family='"Liberation Sans", sans-serif' font-size="8.4" fill="#474b55" stroke="#474b55" stroke-width="0.25">−1.00000</text>
<rect x="970.2" y="438.8" width="44.4" height="9.8" fill="#2962ff"/>
<text x="975.5" y="446.6" font-family='"Liberation Sans", sans-serif' font-size="8.4" fill="#fff">−0.00129</text>
<rect x="970.2" y="449.3" width="44.4" height="9.4" fill="#ff6d00"/>
<text x="975.5" y="457" font-family='"Liberation Sans", sans-serif' font-size="8.4" fill="#fff">−0.01016</text>
<g font-family='"Liberation Sans", sans-serif' font-size="8.4" fill="#474b55" text-anchor="middle">
<text x="40.8" y="490">Sep</text>
<text x="86.75" y="490">Nov</text>
<text x="127.6" y="490" font-weight="bold" fill="#2a2e39">2023</text>
<text x="173.6" y="490">Mar</text>
<text x="214.4" y="490">May</text>
<text x="260.4" y="490">Jul</text>
<text x="306.4" y="490">Sep</text>
<text x="393.2" y="490" font-weight="bold" fill="#2a2e39">2024</text>
<text x="439.1" y="490">Mar</text>
<text x="485.1" y="490">May</text>
<text x="526" y="490">Jul</text>
<text x="663.8" y="490" font-weight="bold" fill="#2a2e39">2025</text>
<text x="704.7" y="490">Mar</text>
<text x="750.7" y="490">May</text>
<text x="837.5" y="490">Sep</text>
<text x="883.4" y="490">Nov</text>
<text x="929.4" y="490" font-weight="bold" fill="#2a2e39">2026</text>
</g>
<text x="963" y="490" font-family='"Liberation Sans", sans-serif' font-size="8.4" fill="#474b55" stroke="#474b55" stroke-width="0.25">M.</text>
<rect x="308" y="477.6" width="66.9" height="14.7" rx="1.5" fill="#2962ff"/>
<text x="341.6" y="490.2" font-family='"Liberation Sans", sans-serif' font-size="8.4" fill="#fff" text-anchor="middle">Mon 23 Oct '23</text>
<rect x="563.7" y="477.6" width="66.7" height="14.7" rx="1.5" fill="#2962ff"/>
<text x="597" y="490.2" font-family='"Liberation Sans", sans-serif' font-size="8.4" fill="#fff" text-anchor="middle">Mon 07 Oct '24</text>
<rect x="764.2" y="477.6" width="64.0" height="14.7" rx="1.5" fill="#2962ff"/>
<text x="796.2" y="490.2" font-family='"Liberation Sans", sans-serif' font-size="8.4" fill="#fff" text-anchor="middle">Mon 07 Jul '25</text>
<text x="6.3" y="12.6" textLength="247.0" lengthAdjust="spacingAndGlyphs" font-family='"Liberation Sans", sans-serif' font-size="8.6" fill="#2a2e39" stroke="#2a2e39" stroke-width="0.25">kanguhalubale created with TradingView.com, Jul 23, 2025 11:46 UTC</text>
<text x="11.6" y="30.1" textLength="108.7" lengthAdjust="spacingAndGlyphs" font-family='"Liberation Sans", sans-serif' font-size="8.4" fill="#2a2e39" stroke="#2a2e39" stroke-width="0.25">DOGEUSDT SPOT · 1W · BYBIT</text>
<text x="124.6" y="30.1" textLength="6.2" lengthAdjust="spacingAndGlyphs" font-family='"Liberation Sans", sans-serif' font-size="8.4" fill="#2a2e39" stroke="#2a2e39" stroke-width="0.25">O</text>
<text x="130.6" y="30.1" textLength="28.8" lengthAdjust="spacingAndGlyphs" font-family='"Liberation Sans", sans-serif' font-size="8.4" fill="#ee5a66" stroke="#ee5a66" stroke-width="0.25">0.27376</text>
<text x="163.6" y="30.1" textLength="5.6" lengthAdjust="spacingAndGlyphs" font-family='"Liberation Sans", sans-serif' font-size="8.4" fill="#2a2e39" stroke="#2a2e39" stroke-width="0.25">H</text>
<text x="169.2" y="30.1" textLength="29.2" lengthAdjust="spacingAndGlyphs" font-family='"Liberation Sans", sans-serif' font-size="8.4" fill="#ee5a66" stroke="#ee5a66" stroke-width="0.25">0.28755</text>
<text x="202.6" y="30.1" textLength="4.7" lengthAdjust="spacingAndGlyphs" font-family='"Liberation Sans", sans-serif' font-size="8.4" fill="#2a2e39" stroke="#2a2e39" stroke-width="0.25">L</text>
<text x="207.2" y="30.1" textLength="29.2" lengthAdjust="spacingAndGlyphs" font-family='"Liberation Sans", sans-serif' font-size="8.4" fill="#ee5a66" stroke="#ee5a66" stroke-width="0.25">0.25347</text>
<text x="240.5" y="30.1" textLength="5.7" lengthAdjust="spacingAndGlyphs" font-family='"Liberation Sans", sans-serif' font-size="8.4" fill="#2a2e39" stroke="#2a2e39" stroke-width="0.25">C</text>
<text x="246.4" y="30.1" textLength="29.2" lengthAdjust="spacingAndGlyphs" font-family='"Liberation Sans", sans-serif' font-size="8.4" fill="#ee5a66" stroke="#ee5a66" stroke-width="0.25">0.25538</text>
<text x="280.6" y="30.1" textLength="33.4" lengthAdjust="spacingAndGlyphs" font-family='"Liberation Sans", sans-serif' font-size="8.4" fill="#ee5a66" stroke="#ee5a66" stroke-width="0.25">−0.01838</text>
<text x="316" y="30.1" textLength="31.3" lengthAdjust="spacingAndGlyphs" font-family='"Liberation Sans", sans-serif' font-size="8.4" fill="#ee5a66" stroke="#ee5a66" stroke-width="0.25">(−6.71%)</text>
<text x="11" y="398.2" textLength="74.2" lengthAdjust="spacingAndGlyphs" font-family='"Liberation Sans", sans-serif' font-size="8.2" fill="#2a2e39" stroke="#2a2e39" stroke-width="0.25">MACD (12, 26, close)</text>
<text x="90.3" y="398.2" textLength="33.0" lengthAdjust="spacingAndGlyphs" font-family='"Liberation Sans", sans-serif' font-size="8.2" fill="#4a78e8" stroke="#4a78e8" stroke-width="0.25">−0.00129</text>
<text x="127.8" y="398.2" textLength="32.0" lengthAdjust="spacingAndGlyphs" font-family='"Liberation Sans", sans-serif' font-size="8.2" fill="#f08a3c" stroke="#f08a3c" stroke-width="0.25">−0.01016</text>
<g fill="#131722"><path d="M6.2,502.8 H10.9 V508.4 H8.6 V504.9 H6.2 Z"/><circle cx="13.2" cy="504.1" r="1.15"/><path d="M15.6,502.8 H18.4 L15.9,508.4 H13.2 Z"/></g>
<text x="21.6" y="509.2" textLength="45.8" lengthAdjust="spacingAndGlyphs" font-family='"Liberation Sans", sans-serif' font-size="8.4" fill="#2a2e39" stroke="#2a2e39" stroke-width="0.25">TradingView</text>
</svg>
</body></html>
